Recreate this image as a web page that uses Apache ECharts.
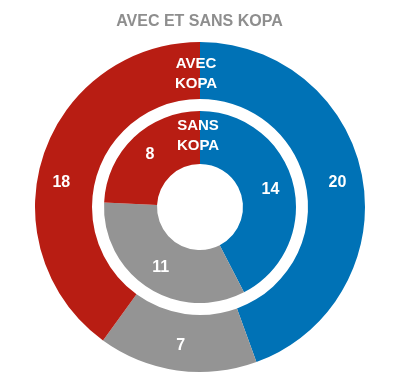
<!DOCTYPE html>
<html><head><meta charset="utf-8">
<style>html,body{margin:0;padding:0;background:#fff}#c{width:399px;height:377px}</style>
<script src="https://cdn.jsdelivr.net/npm/echarts@6/dist/echarts.min.js"></script>
</head><body><div id="c"></div>
<script>
const titleText = 'AVEC ET SANS KOPA';
const categories = ['Bleu', 'Gris', 'Rouge'];
const avecValues = [20, 7, 18];
const sansValues = [14, 11, 8];
const ringNames = ['AVEC\nKOPA', 'SANS\nKOPA'];
const colors = ['#0072B6', '#949494', '#B81D13'];

const chart = echarts.init(document.getElementById('c'), null, {renderer: 'canvas'});
const lbl = {show: true, position: 'inside', color: '#fff', fontWeight: 'bold', fontSize: 16,
  fontFamily: 'Liberation Sans, Arial, sans-serif', formatter: '{c}'};
function mk(vals){ return vals.map((v,i)=>({name: categories[i], value: v, itemStyle:{color: colors[i]}})); }
chart.setOption({
  animation: false,
  title: {text: titleText, left: 'center', top: 9,
    textStyle: {color: '#8E8E8E', fontSize: 16, fontWeight: 'bold', fontFamily: 'Liberation Sans, Arial, sans-serif'}},
  series: [
    {type: 'pie', name: ringNames[0], center: [200, 207], radius: [108, 165], startAngle: 90,
     label: lbl, labelLine: {show: false}, silent: true,
     labelLayout: function(p){ return p.dataIndex === 2 ? {dx: -6, dy: 19} : {}; },
     data: mk(avecValues)},
    {type: 'pie', name: ringNames[1], center: [200, 207], radius: [43, 96], startAngle: 90,
     label: lbl, labelLine: {show: false}, silent: true,
     data: mk(sansValues)}
  ],
  graphic: [
    {type: 'text', x: 196, y: 74, z: 100, style: {text: ringNames[0], fill: '#fff', fontSize: 15, fontWeight: 'bold', fontFamily: 'Liberation Sans, Arial, sans-serif', align: 'center', verticalAlign: 'middle', lineHeight: 20}},
    {type: 'text', x: 198, y: 136, z: 100, style: {text: ringNames[1], fill: '#fff', fontSize: 15, fontWeight: 'bold', fontFamily: 'Liberation Sans, Arial, sans-serif', align: 'center', verticalAlign: 'middle', lineHeight: 20}}
  ]
});
</script></body></html>
